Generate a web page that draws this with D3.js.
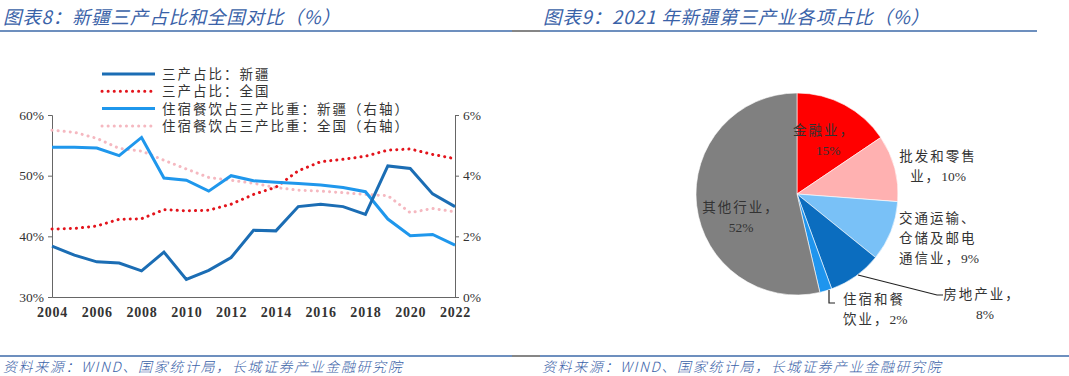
<!DOCTYPE html>
<html lang="zh">
<head>
    <meta charset="UTF-8">
    <title>新疆三产占比</title>
    <script src="https://d3js.org/d3.v7.min.js"></script>
    <style>
        body { margin: 0; background: #fff; }
        .title { font-family: "Noto Sans CJK SC", sans-serif; font-style: italic; font-size: 18.5px; letter-spacing: 0.8px; fill: #3a62a8; font-weight: 400; }
        .source { font-family: "Noto Sans CJK SC", sans-serif; font-style: italic; font-size: 14px; letter-spacing: 1.6px; fill: #3a62a8; font-weight: 300; }
        .axis text { font-family: "Liberation Serif", "Noto Sans CJK SC", serif; font-size: 13.5px; fill: #333; }
        .axis path, .axis line { stroke: #666; }
        .legend text, .pie-label { font-family: "Liberation Serif", "Noto Sans CJK SC", serif; font-size: 13.5px; letter-spacing: 2px; fill: #333; }
        .num { letter-spacing: 0; }
    </style>
</head>
<body>
<svg id="chart" width="1069" height="376"></svg>
<script>
    // left chart data
    const years = d3.range(2004, 2023);
    const shareXJ = [38.4, 36.9, 35.8, 35.6, 34.3, 37.4, 32.9, 34.4, 36.5, 41.0, 40.9, 44.9, 45.3, 44.9, 43.6, 51.6, 51.2, 47.0, 44.9];
    const shareCN = [41.2, 41.3, 41.7, 42.8, 42.9, 44.4, 44.2, 44.3, 45.3, 46.9, 48.1, 50.8, 52.3, 52.7, 53.2, 54.2, 54.4, 53.5, 52.8];
    const hotelXJ = [4.94, 4.94, 4.91, 4.66, 5.26, 3.92, 3.85, 3.49, 4.00, 3.83, 3.78, 3.74, 3.69, 3.61, 3.47, 2.57, 2.02, 2.06, 1.71];
    const hotelCN = [5.50, 5.43, 5.23, 4.90, 4.81, 4.51, 4.22, 3.94, 3.85, 3.75, 3.61, 3.52, 3.49, 3.44, 3.38, 3.34, 2.78, 2.92, 2.81];
    const seriesNames = ["三产占比：新疆", "三产占比：全国", "住宿餐饮占三产比重：新疆（右轴）", "住宿餐饮占三产比重：全国（右轴）"];
    const leftTicks = [30, 40, 50, 60];
    const rightTicks = [0, 2, 4, 6];
    const xTicks = d3.range(2004, 2023, 2);

    // right chart data
    const sectors = ["金融业", "批发和零售业", "交通运输、仓储及邮电通信业", "房地产业", "住宿和餐饮业", "其他行业"];
    const sectorValues = [15.2, 10.4, 9.4, 8.4, 1.9, 52.4];
    const sectorColors = ["#ff0000", "#ffb1b1", "#79c1f7", "#0b6dbf", "#1f95ee", "#808080"];

    const svg = d3.select("#chart");

    // titles, rules, sources
    svg.append("text").attr("class", "title").attr("x", 3).attr("y", 24).text("图表8：新疆三产占比和全国对比（%）");
    svg.append("text").attr("class", "title").attr("x", 543).attr("y", 24).text("图表9：2021 年新疆第三产业各项占比（%）");
    [31, 356].forEach(y => {
        svg.append("line").attr("x1", 0).attr("x2", 512).attr("y1", y).attr("y2", y).attr("stroke", "#3d6aa8").attr("stroke-width", 1.3);
        svg.append("line").attr("x1", 512).attr("x2", 540).attr("y1", y).attr("y2", y).attr("stroke", "#444").attr("stroke-width", 1.3);
        svg.append("line").attr("x1", 540).attr("x2", y === 31 ? 1037 : 1069).attr("y1", y).attr("y2", y).attr("stroke", "#3d6aa8").attr("stroke-width", 1.3);
    });
    svg.append("text").attr("class", "source").attr("x", 3).attr("y", 372).text("资料来源：WIND、国家统计局，长城证券产业金融研究院");
    svg.append("text").attr("class", "source").attr("x", 542).attr("y", 372).text("资料来源：WIND、国家统计局，长城证券产业金融研究院");

    // line chart
    const x = d3.scaleLinear().domain([2004, 2022]).range([52, 455]);
    const yL = d3.scaleLinear().domain([30, 60]).range([297, 115]);
    const yR = d3.scaleLinear().domain([0, 6]).range([297, 115]);

    svg.append("g").attr("class", "axis").attr("transform", "translate(52,0)")
        .call(d3.axisLeft(yL).tickValues(leftTicks).tickFormat(d => d + "%").tickSize(4).tickPadding(4));
    svg.append("g").attr("class", "axis").attr("transform", "translate(455,0)")
        .call(d3.axisRight(yR).tickValues(rightTicks).tickFormat(d => d + "%").tickSize(4).tickPadding(4));
    const xAxis = svg.append("g").attr("class", "axis").attr("transform", "translate(0,297)")
        .call(d3.axisBottom(x).tickValues(xTicks).tickFormat(d3.format("d")).tickSize(0).tickPadding(10));
    xAxis.selectAll("text").style("font-weight", "bold").style("font-size", "14px").style("letter-spacing", "0.8px");

    const lineL = d3.line().x((d, i) => x(years[i])).y(d => yL(d));
    const lineR = d3.line().x((d, i) => x(years[i])).y(d => yR(d));

    const styles = [
        { color: "#1b6db4", width: 3, dash: null },
        { color: "#e3141c", width: 3, dash: "0.1 6" },
        { color: "#1f97ec", width: 3, dash: null },
        { color: "#f5b8c0", width: 3, dash: "0.1 6" }
    ];

    const drawOrder = [[hotelCN, lineR, 3], [shareCN, lineL, 1], [hotelXJ, lineR, 2], [shareXJ, lineL, 0]];
    drawOrder.forEach(([data, gen, k]) => {
        svg.append("path").datum(data).attr("d", gen)
            .attr("fill", "none").attr("stroke", styles[k].color).attr("stroke-width", styles[k].width)
            .attr("stroke-linecap", styles[k].dash ? "round" : "butt")
            .attr("stroke-dasharray", styles[k].dash);
    });

    // legend
    const legend = svg.append("g").attr("class", "legend");
    seriesNames.forEach((name, i) => {
        const ly = 74 + i * 17.3;
        legend.append("line").attr("x1", 102).attr("x2", 155).attr("y1", ly).attr("y2", ly)
            .attr("stroke", styles[i].color).attr("stroke-width", styles[i].width)
            .attr("stroke-linecap", styles[i].dash ? "round" : "butt")
            .attr("stroke-dasharray", styles[i].dash);
        legend.append("text").attr("x", 162).attr("y", ly + 5).text(name);
    });

    // pie chart
    const cx = 797, cy = 194, r = 101;
    const pie = d3.pie().sort(null).value(d => d);
    const arc = d3.arc().innerRadius(0).outerRadius(r);
    const pg = svg.append("g").attr("transform", `translate(${cx},${cy})`);
    pg.selectAll("path").data(pie(sectorValues)).enter().append("path")
        .attr("d", arc)
        .attr("fill", (d, i) => sectorColors[i])
        .attr("stroke", "#fff").attr("stroke-width", 0.6);

    // leader lines
    svg.append("polyline").attr("points", "858,275 937,295 943,295")
        .attr("fill", "none").attr("stroke", "#222").attr("stroke-width", 1.2);
    svg.append("polyline").attr("points", "829,290 829,303 835,303")
        .attr("fill", "none").attr("stroke", "#222").attr("stroke-width", 1.2);

    const pct = v => Math.round(v) + "%";
    const labels = [
        { lines: ["金融业，", pct(sectorValues[0])], x: 824, y: 135, anchor: "middle", dx: [0, 4] },
        { lines: ["批发和零售", "业，" + pct(sectorValues[1])], x: 938, y: 161, anchor: "middle", dx: [0, 0] },
        { lines: ["交通运输、", "仓储及邮电", "通信业，" + pct(sectorValues[2])], x: 899, y: 223, anchor: "start", dx: [0, 0, 0] },
        { lines: ["房地产业，", pct(sectorValues[3])], x: 982, y: 299, anchor: "middle", dx: [0, 3] },
        { lines: ["住宿和餐", "饮业，" + pct(sectorValues[4])], x: 843, y: 304, anchor: "start", dx: [0, 0] },
        { lines: ["其他行业，", pct(sectorValues[5])], x: 737, y: 212, anchor: "middle", dx: [4, 4] }
    ];
    labels.forEach(l => {
        l.lines.forEach((t, j) => {
            const txt = svg.append("text").attr("class", "pie-label")
                .attr("x", l.x + l.dx[j]).attr("y", l.y + j * 20)
                .attr("text-anchor", l.anchor);
            // CJK part spaced out, numbers kept tight
            t.split(/(\d+%)/).filter(s => s.length).forEach(s => {
                txt.append("tspan").attr("class", /\d/.test(s) ? "num" : null).text(s);
            });
        });
    });
</script>
</body>
</html>
